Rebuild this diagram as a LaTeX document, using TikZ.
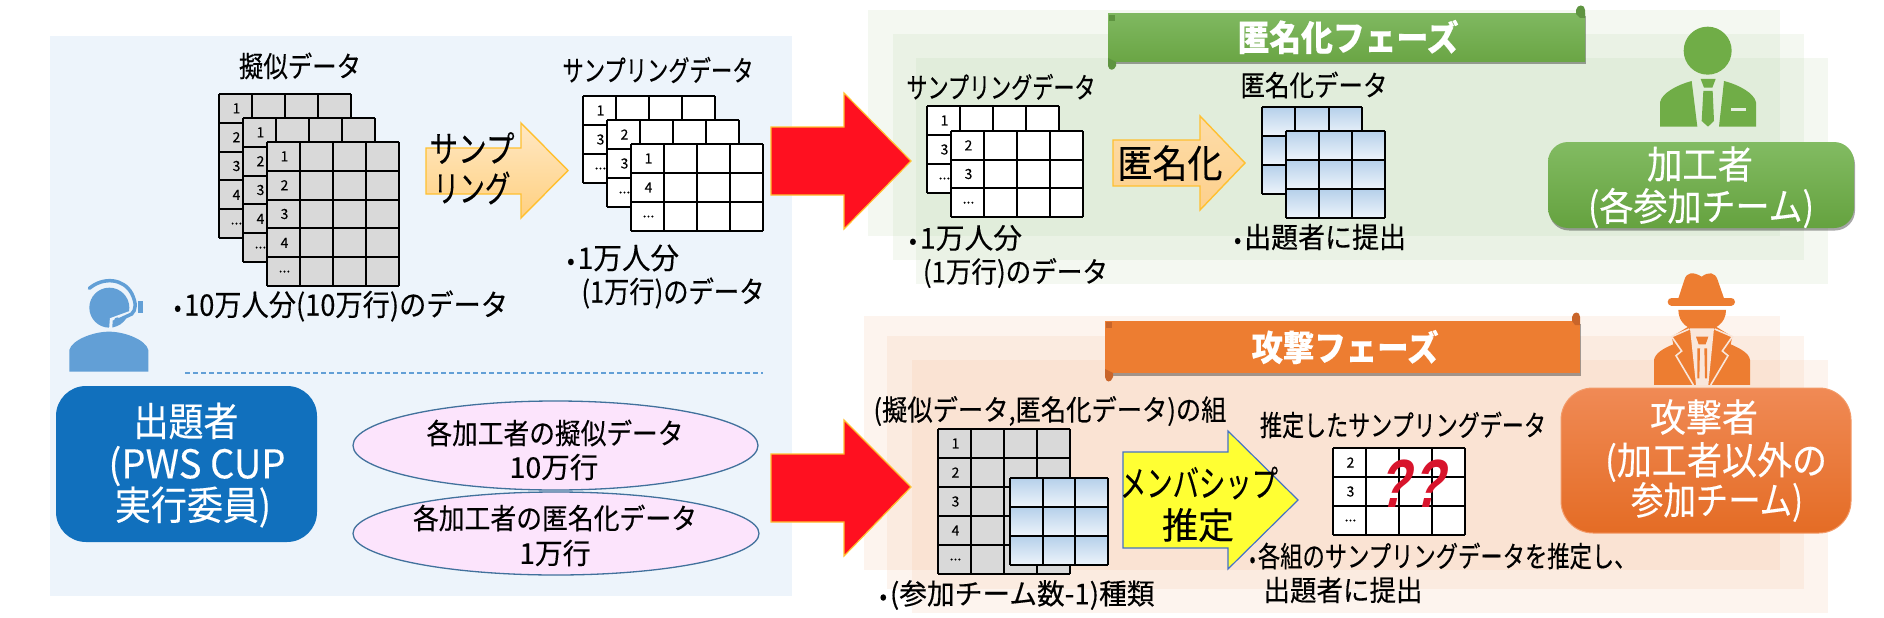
\documentclass[tikz,border=0pt]{standalone}
\usepackage{graphicx}
\usepackage{fontspec}
\usetikzlibrary{shadows,shapes.geometric}
\setmainfont{Noto Sans CJK JP}[FakeBold=0.25]
\newfontfamily\qfont{Liberation Sans}[BoldFeatures={FakeSlant=.32}]
\definecolor{panelblue}{HTML}{EDF4FB}
\definecolor{iconblue}{HTML}{629FD6}
\definecolor{boxblue}{HTML}{1170BD}
\definecolor{pgreen}{HTML}{A9CF96}
\definecolor{porange}{HTML}{F4B183}
\definecolor{igreen}{HTML}{70AD47}
\definecolor{iorange}{HTML}{ED7D31}
\definecolor{ared}{HTML}{FF1020}
\definecolor{aedge}{HTML}{FFC030}
\definecolor{qred}{HTML}{D8142C}
\definecolor{lightgreenp}{HTML}{E6EFE0}
\definecolor{lightorangep}{HTML}{F9E6DA}
\definecolor{pinkfill}{HTML}{FCE4FC}
\definecolor{ovaledge}{HTML}{41719C}
\definecolor{cellA}{HTML}{B5D0EA}
\definecolor{cellB}{HTML}{EEF4FB}
\definecolor{sampA}{HTML}{FFE8C4}
\definecolor{sampB}{HTML}{FFD080}
\definecolor{anonA}{HTML}{FDDCA8}
\definecolor{anonB}{HTML}{FDD08C}
\definecolor{bgreenA}{HTML}{7FB860}
\definecolor{bgreenB}{HTML}{6AA544}
\definecolor{rollgreen}{HTML}{5E9440}
\definecolor{boxgreenA}{HTML}{82BB62}
\definecolor{boxgreenB}{HTML}{65A23F}
\definecolor{rollorange}{HTML}{C9652A}
\definecolor{yedge}{HTML}{4472C4}
\definecolor{yfill}{HTML}{FFFF33}
\definecolor{oedge}{HTML}{F39A68}
\definecolor{boxorangeA}{HTML}{F08A55}
\definecolor{boxorangeB}{HTML}{E46C25}
\tikzset{
  txt/.style={inner sep=0pt,text=black},
  gpanel/.style={fill=pgreen,fill opacity=.125,draw=none},
  opanel/.style={fill=porange,fill opacity=.13,draw=none},
  oval/.style={draw=ovaledge,fill=pinkfill,line width=1.3pt},
  grid line/.style={draw=black,line width=2pt},
  redarrow/.style={fill=ared,draw=aedge,line width=1.2pt},
  softshadow/.style={drop shadow={shadow xshift=1pt,shadow yshift=-2.5pt,opacity=.35,fill=black}}
}
\def\dd{...}
\newcommand\bu{\scalebox{.8}{•}\kern3pt}
% text with exact ink width: opts,name,centre,width,size,text
\newcommand\Tx[6][]{\node[txt,#1] (#2) at (#3) {\pgfmathsetmacro\fs{#5*1.1}\fontsize{\fs pt}{\fs pt}\selectfont\resizebox{#4pt}{\height}{#6}};}
% table: name,x,y,w,h,cols,rows,fill,numbers
\newcommand\Tbl[9]{%
  \fill[#8] (#2,#3) rectangle ({#2+#4},{#3+#5});
  \foreach \i in {0,...,#6}{\draw[grid line] ({#2+\i*#4/#6},#3) -- ({#2+\i*#4/#6},{#3+#5});}
  \foreach \i in {0,...,#7}{\draw[grid line] (#2,{#3+\i*#5/#7}) -- ({#2+#4},{#3+\i*#5/#7});}
  \foreach \n [count=\c] in {#9}{
    \node[txt,font=\fontsize{14pt}{14pt}\selectfont] (#1-\c) at ({#2+.5*#4/#6+1},{#3+(\c-.5)*#5/#7}) {\n};
  }}
% blue table: x,y,w,h (3 x 3 cells with gradient)
\newcommand\BTbl[4]{%
  \foreach \i in {0,1,2}{\foreach \j in {0,1,2}{
    \shade[top color=cellA,bottom color=cellB] ({#1+\i*#3/3},{#2+\j*#4/3}) rectangle ({#1+(\i+1)*#3/3},{#2+(\j+1)*#4/3});
  }}
  \foreach \i in {0,...,3}{\draw[grid line] ({#1+\i*#3/3},#2) -- ({#1+\i*#3/3},{#2+#4});
    \draw[grid line] (#1,{#2+\i*#4/3}) -- ({#1+#3},{#2+\i*#4/3});}}
\begin{document}
\begin{tikzpicture}[x=1pt,y=-1pt]
\useasboundingbox (0,0) rectangle (1884,618);
\fill[white] (0,0) rectangle (1884,618);
% panels
\fill[panelblue] (50,36) rectangle (792,596);
\path[gpanel] (868,10) rectangle (1780,236);
\path[gpanel] (893,34) rectangle (1804,260);
\path[gpanel] (916,58) rectangle (1828,284);
\path[opanel] (864,316) rectangle (1780,570);
\path[opanel] (887,336) rectangle (1804,589);
\path[opanel] (912,360) rectangle (1828,613);

% left: pseudo data
\Tx{lb1}{300,66}{122}{26}{擬似データ}
\Tbl{ga}{219}{94}{132}{144}{4}{5}{fill=black!15}{1,2,3,4,\dd}
\Tbl{gb}{243}{118}{132}{144}{4}{5}{fill=black!15}{1,2,3,4,\dd}
\Tbl{gc}{267}{142}{132}{144}{4}{5}{fill=black!15}{1,2,3,4,\dd}
\Tx{lb2}{658,70}{191}{26}{サンプリングデータ}
\Tbl{wa}{583}{96}{132}{87}{4}{3}{fill=white}{1,3,\dd}
\Tbl{wb}{607}{120}{132}{87}{4}{3}{fill=white}{2,3,\dd}
\Tbl{wc}{631}{144}{132}{87}{4}{3}{fill=white}{1,4,\dd}
% sampling arrow
\path[draw=aedge,line width=1.4pt,top color=sampA,bottom color=sampB]
  (426,148) -- (521,148) -- (521,123) -- (568,170.5) -- (521,218) -- (521,194) -- (426,194) -- cycle;
\Tx{s1}{472,148}{85}{33}{サンプ}
\Tx{s2}{472,188}{77}{33}{リング}
\Tx{n1}{341,306}{334}{27}{\bu 10万人分(10万行)のデータ}
\Tx{n2}{623,258}{112}{27}{\bu 1万人分}
\Tx{n3}{673,293}{183}{27}{(1万行)のデータ}

% operator icon
\begin{scope}[shift={(60,270)},scale=.3333]
  \fill[iconblue] (148,113) circle[radius=60];
  \draw[panelblue,line width=3pt] (152,175) -- (154,148) -- (225,122);
  \draw[iconblue,line width=3.5pt,line cap=round] (88,55) .. controls (130,20) and (190,25) .. (215,70) .. controls (230,100) and (228,120) .. (215,132) -- (172,152);
  \fill[iconblue] (234,92) rectangle (248,130);
  \fill[iconblue] (172,152) circle[radius=10];
  \fill[iconblue] (28,305) -- (28,240) .. controls (35,210) and (100,185) .. (147,185) .. controls (195,185) and (258,210) .. (265,240) -- (265,305) -- cycle;
\end{scope}
\draw[iconblue,line width=1.3pt,dash pattern=on 5pt off 3pt] (185,373) -- (763,373);
\node[fill=boxblue,rounded corners=30pt,minimum width=261pt,minimum height=156pt,inner sep=0pt] (organizer) at (186.5,464) {};
\Tx[text=white]{o1}{186,421}{105}{36}{出題者}
\Tx[text=white]{o2}{197,466}{177}{36}{(PWS CUP}
\Tx[text=white]{o3}{193,507}{156}{36}{実行委員)}
\node[ellipse,oval,minimum width=405pt,minimum height=89pt,inner sep=0pt] (e1) at (555.5,445.5) {};
\node[ellipse,oval,minimum width=406pt,minimum height=83pt,inner sep=0pt] (e2) at (556,533.5) {};
\Tx{e1a}{555,433}{257}{26}{各加工者の擬似データ}
\Tx{e1b}{554,467}{89}{26}{10万行}
\Tx{e2a}{555,518}{284}{26}{各加工者の匿名化データ}
\Tx{e2b}{555,553}{71}{26}{1万行}

% red arrows
\path[redarrow] (771,127) -- (844,127) -- (844,93) -- (911,161) -- (844,229) -- (844,195) -- (771,195) -- cycle;
\path[redarrow] (771,454) -- (844,454) -- (844,420) -- (911,487) -- (844,556) -- (844,522) -- (771,522) -- cycle;

% anonymise phase
\path[softshadow,top color=bgreenA,bottom color=bgreenB]
  (1108,14) rectangle (1585,62);
\fill[rollgreen] (1576,14) -- (1576,10) .. controls (1577,4) and (1585,4) .. (1585,10) -- (1585,18) -- (1580,18) -- cycle;
\fill[rollgreen] (1108,58) -- (1116,62) -- (1116,66) .. controls (1114,71) and (1109,71) .. (1108,66) -- cycle;
\fill[rollgreen] (1109,15) -- (1115,15) -- (1115,21) -- (1109,21) -- cycle;
\Tx[text=white,font=\bfseries]{ph1}{1348,37}{221}{32}{匿名化フェーズ}
\Tx{a1}{1001,87}{189}{26}{サンプリングデータ}
\Tbl{wd}{927}{106}{132}{87}{4}{3}{fill=white}{1,3,\dd}
\Tbl{we}{951}{131}{132}{86}{4}{3}{fill=white}{2,3,\dd}
\path[draw=aedge,line width=1.4pt,top color=anonA,bottom color=anonB]
  (1113,140) -- (1200,140) -- (1200,116) -- (1245,163) -- (1200,210) -- (1200,186) -- (1113,186) -- cycle;
\Tx{a2}{1170,163}{105}{35}{匿名化}
\Tx{a3}{1314,85}{147}{26}{匿名化データ}
\BTbl{1262}{107}{100}{87}
\BTbl{1286}{131}{99}{87}
\Tx{a4}{1320,237}{172}{26}{\bu 出題者に提出}
\Tx{a5}{965.5,238}{113}{26}{\bu 1万人分}
\Tx{a6}{1015.5,273}{185}{26}{(1万行)のデータ}
% processor icon
\begin{scope}[shift={(1640,15)},scale=.3333]
  \fill[igreen] (203,107) circle[radius=72];
  \fill[igreen] (60,335) -- (60,262) .. controls (65,235) and (110,210) .. (155,198) -- (172,335) -- cycle;
  \fill[igreen] (348,335) -- (348,262) .. controls (343,235) and (298,210) .. (252,198) -- (237,335) -- cycle;
  \fill[igreen] (182,192) -- (227,192) -- (217,218) -- (192,218) -- cycle;
  \fill[igreen] (190,228) -- (218,228) -- (222,318) -- (204,335) -- (185,318) -- cycle;
  \fill[lightgreenp] (272,278) rectangle (317,287);
\end{scope}
\path[softshadow,top color=boxgreenA,bottom color=boxgreenB,rounded corners=20pt]
  (1548,142) rectangle (1854,228);
\Tx[text=white]{p1}{1700,164}{106}{35}{加工者}
\Tx[text=white]{p2}{1701,208}{226}{35}{(各参加チーム)}

% attack phase
\path[softshadow,fill=iorange] (1105,321) rectangle (1580,373);
\fill[rollorange] (1572,321) -- (1572,317) .. controls (1573,311) and (1580,311) .. (1580,317) -- (1580,325) -- (1575,325) -- cycle;
\fill[rollorange] (1105,369) -- (1113,373) -- (1113,377) .. controls (1111,383) and (1106,383) .. (1105,377) -- cycle;
\fill[rollorange] (1106,322) -- (1112,322) -- (1112,328) -- (1106,328) -- cycle;
\Tx[text=white,font=\bfseries]{ph2}{1345,347}{187}{32}{攻撃フェーズ}
\Tx{b1}{1050,411}{353}{26}{(擬似データ,匿名化データ)の組}
\Tx{b2}{1403,425}{286}{26}{推定したサンプリングデータ}
\Tbl{gd}{938}{429}{132}{145}{4}{5}{fill=black!15}{1,2,3,4,\dd}
\BTbl{1010}{478}{98}{87}
\path[draw=yedge,line width=1.2pt,fill=yfill]
  (1123,452) -- (1228,452) -- (1228,431) -- (1298,500) -- (1228,569) -- (1228,548) -- (1123,548) -- cycle;
\Tx{b3}{1199,483}{158}{33}{メンバシップ}
\Tx{b4}{1198,525}{72}{33}{推定}
\Tbl{wf}{1333}{448}{132}{87}{4}{3}{fill=white}{2,3,\dd}
\Tx[text=qred,font=\qfont\bfseries]{q}{1410,484}{66}{62}{?\kern5pt?}
\Tx{b5}{1443,556}{387}{26}{\bu 各組のサンプリングデータを推定し、}
\Tx{b6}{1343,590}{159}{26}{出題者に提出}
\Tx{b7}{1017,595}{275}{26}{\bu (参加チーム数-1)種類}
% attacker icon
\begin{scope}[shift={(1640,265)},scale=.3333]
  \fill[iorange] (115,100) -- (133,45) .. controls (140,20) and (160,20) .. (185,35) .. controls (205,20) and (225,20) .. (233,45) -- (252,100) -- cycle;
  \draw[iorange,line width=8pt,line cap=round] (95,110) -- (273,110);
  \fill[iorange] (115,135) -- (258,135) .. controls (258,175) and (225,197) .. (186,197) .. controls (147,197) and (115,175) .. (115,135) -- cycle;
  \fill[iorange] (42,360) -- (42,285) .. controls (45,265) and (70,250) .. (100,238) -- (95,215) -- (145,185) -- (228,185) -- (277,215) -- (272,238) .. controls (300,250) and (328,265) .. (330,285) -- (330,360) -- cycle;
  \fill[lightorangep] (150,190) -- (222,190) -- (205,360) -- (168,360) -- cycle;
  \draw[lightorangep,line width=1.6pt] (148,192) -- (95,215) -- (125,258) -- (108,272) -- (160,360);
  \draw[lightorangep,line width=1.6pt] (224,192) -- (277,215) -- (247,258) -- (264,272) -- (212,360);
  \fill[iorange] (168,215) -- (205,215) -- (197,238) -- (176,238) -- cycle;
  \fill[iorange] (172,250) -- (180,250) -- (178,340) -- (172,340) -- cycle;
  \fill[iorange] (193,250) -- (201,250) -- (201,340) -- (195,340) -- cycle;
\end{scope}
\path[draw=oedge,line width=1pt,top color=boxorangeA,bottom color=boxorangeB,rounded corners=32pt]
  (1561,388) rectangle (1851,533);
\Tx[text=white]{t1}{1704,417}{108}{35}{攻撃者}
\Tx[text=white]{t2}{1716,462}{222}{35}{(加工者以外の}
\Tx[text=white]{t3}{1717,502}{172}{35}{参加チーム)}
\end{tikzpicture}
\end{document}
